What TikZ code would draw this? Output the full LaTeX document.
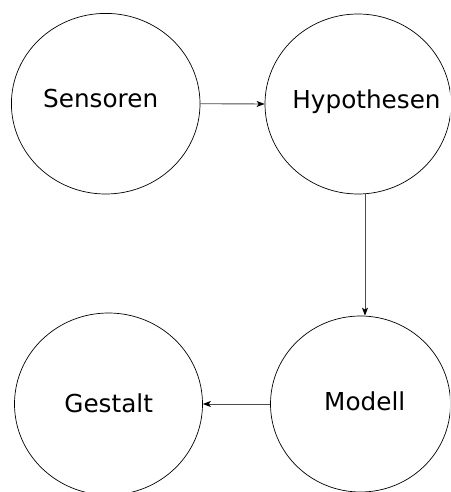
\documentclass[tikz,border=0pt]{standalone}
\usepackage{fontspec}
\setmainfont{DejaVu Sans}
\usetikzlibrary{shapes.geometric,arrows.meta}
\begin{document}
\begin{tikzpicture}[x=1pt,y=1pt,
  blob/.style={draw=black,line width=0.7pt,ellipse,inner sep=0pt},
  lbl/.style={anchor=base,inner sep=0pt,font=\fontsize{24.7}{28}\selectfont},
  conn/.style={draw=black!70,line width=0.9pt,-{Stealth[length=8pt,width=6pt,inset=2pt,color=black]}}]
\useasboundingbox (0,0) rectangle (450,-492);
\begin{scope}
\clip (0,0) rectangle (450,-492);
\node[blob,minimum width=188.6pt,minimum height=180.6pt] (s) at (105.7,-103.7) {};
\node[blob,minimum width=186pt,minimum height=180pt] (h) at (358,-104) {};
\node[blob,minimum width=188pt,minimum height=182pt] (g) at (108.5,-404) {};
\node[blob,minimum width=180pt,minimum height=176pt] (m) at (360.5,-404) {};
\end{scope}
\node[lbl] (ts) at (100.7,-108) {Sensoren};
\node[lbl] (th) at (366.5,-109) {Hypothesen};
\node[lbl] (tg) at (108.7,-412.7) {Gestalt};
\node[lbl] (tm) at (364.7,-410) {Modell};
\draw[conn] (s.east) -- (h.west);
\draw[conn] ([xshift=7pt]h.south) -- ([xshift=4.5pt]m.north);
\draw[conn] (m.west) -- (g.east);
\end{tikzpicture}
\end{document}
